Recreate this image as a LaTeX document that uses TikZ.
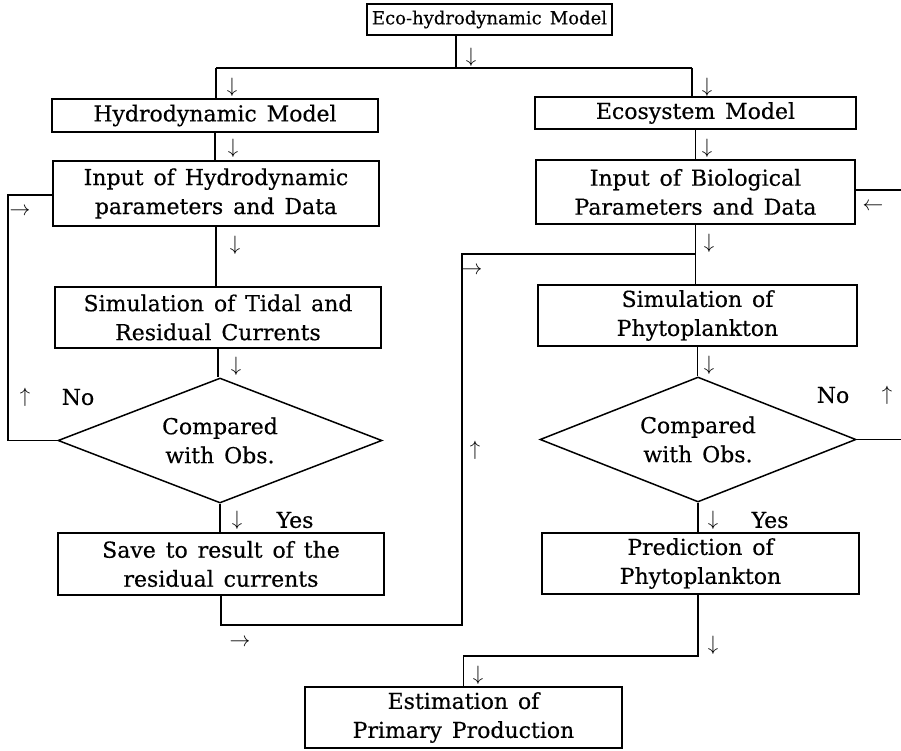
\documentclass[tikz,border=0pt]{standalone}
\usepackage{fontspec}
\setmainfont{DejaVu Serif}[FakeBold=0.4]
\usetikzlibrary{shapes.geometric}
\newcommand\figfont{\fontsize{22}{29}\selectfont\spaceskip 0.45em\relax}
\newcommand\topfont{\fontsize{18}{24}\selectfont\spaceskip 0.45em\relax}
\begin{document}
\begin{tikzpicture}[x=1pt,y=-1pt,
  every node/.style={font=\figfont},
  box/.style={draw,line width=1.5pt,inner sep=0pt,align=center},
  dec/.style={draw,diamond,aspect=2.6,line width=1.5pt,inner sep=0pt,align=center},
  lnk/.style={line width=1.5pt},
  ar/.style={inner sep=0pt}]
\useasboundingbox (0,0) rectangle (901,751);
% boxes
\node[box,font=\topfont,minimum width=245pt,minimum height=31pt] (top) at (489.5,19.5) {Eco-hydrodynamic Model};
\node[box,minimum width=326pt,minimum height=33pt] (hydro) at (215,115.5) {Hydrodynamic Model};
\node[box,minimum width=326pt,minimum height=65pt] (inH) at (216,193.5) {Input of Hydrodynamic\\parameters and Data};
\node[box,minimum width=326pt,minimum height=61pt] (simT) at (218,317.5) {Simulation of Tidal and\\Residual Currents};
\node[dec,minimum width=324pt,minimum height=125pt] (dL) at (220,440.5) {Compared\\with Obs.};
\node[box,minimum width=326pt,minimum height=62pt] (save) at (221,564) {Save to result of the\\residual currents};
\node[box,minimum width=321pt,minimum height=32pt] (eco) at (695.5,113) {Ecosystem Model};
\node[box,minimum width=319pt,minimum height=64pt] (inB) at (695.5,192) {Input of Biological\\Parameters and Data};
\node[box,minimum width=319pt,minimum height=61pt] (simP) at (697.5,315.5) {Simulation of\\Phytoplankton};
\node[dec,minimum width=316pt,minimum height=125pt] (dR) at (698,439.5) {Compared\\with Obs.};
\node[box,minimum width=317pt,minimum height=61pt] (pred) at (700.5,563.5) {Prediction of\\Phytoplankton};
\node[box,minimum width=317pt,minimum height=61pt] (est) at (463.5,717.5) {Estimation of\\Primary Production};
% junction coordinates
\coordinate (jT) at (456,68);
\coordinate (jL) at (216,68);
\coordinate (jR) at (692,68);
\coordinate (lt) at (8,195);
\coordinate (rt) at (905,190);
\coordinate (m1) at (462,625);
\coordinate (m2) at (462,254);
\coordinate (b1) at (698,656);
% connectors
\draw[lnk] (top.south -| jT) -- (jT);
\draw[lnk] (jL) -- (jR);
\draw[lnk] (jL) -- (hydro.north -| jL);
\draw[lnk] (jR) -- (eco.north -| jR);
\draw[lnk] (hydro.south) -- (inH.north -| hydro.south);
\draw[lnk] (inH.south) -- (simT.north -| inH.south);
\draw[lnk] (simT.south) -- (dL.north -| simT.south);
\draw[lnk] (dL.south) -- (save.north -| dL.south);
\draw[lnk] (dL.west) -| (lt) -- (inH.west |- lt);
\draw[lnk] (eco.south) -- (inB.north -| eco.south);
\draw[lnk] (inB.south) -- (simP.north -| inB.south);
\draw[lnk] (simP.south) -- (dR.north -| simP.south);
\draw[lnk] (dR.south) -- (pred.north -| dR.south);
\draw[lnk] (dR.east) -| (rt) -- (inB.east |- rt);
\draw[lnk] (save.south) |- (m1) -- (m2) -- (inB.south |- m2);
\draw[lnk] (pred.south -| b1) -- (b1) -- (est.north |- b1) -- (est.north);
% arrow glyphs
\node[ar] (a1) at (471,57) {$\downarrow$};
\node[ar] (a2) at (232,87) {$\downarrow$};
\node[ar] (a3) at (707,87) {$\downarrow$};
\node[ar] (a4) at (233,148) {$\downarrow$};
\node[ar] (a5) at (707,148) {$\downarrow$};
\node[ar] (a6) at (235,245) {$\downarrow$};
\node[ar] (a7) at (709,243) {$\downarrow$};
\node[ar] (a8) at (236,366) {$\downarrow$};
\node[ar] (a9) at (709,365) {$\downarrow$};
\node[ar] (a10) at (237,520) {$\downarrow$};
\node[ar] (a11) at (713,520) {$\downarrow$};
\node[ar] (a12) at (713,645) {$\downarrow$};
\node[ar] (a13) at (478,675) {$\downarrow$};
\node[ar] (a14) at (20,212) {$\rightarrow$};
\node[ar] (a15) at (472,271) {$\rightarrow$};
\node[ar] (a16) at (240,643) {$\rightarrow$};
\node[ar] (a17) at (873,207) {$\leftarrow$};
\node[ar] (a18) at (25,397) {$\uparrow$};
\node[ar] (a19) at (887,395) {$\uparrow$};
\node[ar] (a20) at (475,450) {$\uparrow$};
% labels
\node (no1) at (78,397) {No};
\node (no2) at (833,395) {No};
\node (yes1) at (295,520) {Yes};
\node (yes2) at (770,520) {Yes};
\end{tikzpicture}
\end{document}
